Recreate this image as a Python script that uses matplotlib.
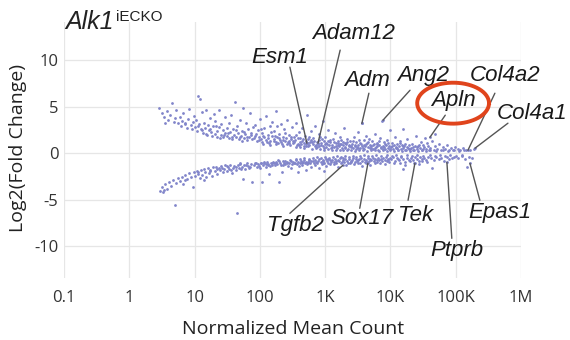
import numpy as np
import matplotlib
matplotlib.use("Agg")
import matplotlib.pyplot as plt

# ---------------- data ----------------
# upper band: (log10 normalized mean count, log2 fold change)
up_pts = [
(0.46,4.9),(0.50,4.3),(0.53,3.9),(0.58,4.5),(0.60,3.6),(0.63,4.1),(0.66,5.4),(0.68,3.4),(0.70,3.8),(0.55,3.3),
(0.72,4.6),(0.74,3.2),(0.77,3.9),(0.79,2.9),(0.81,3.5),(0.83,4.3),(0.86,3.1),(0.88,2.7),(0.90,3.7),(0.92,4.8),(0.94,3.0),(0.96,2.6),(0.98,3.4),(0.99,4.0),(0.85,3.3),
(1.01,2.8),(1.02,3.6),(1.04,2.4),(1.05,6.2),(1.07,3.1),(1.08,5.8),(1.10,2.6),(1.11,4.4),(1.13,2.2),(1.14,3.3),(1.16,2.7),(1.17,4.7),(1.19,2.0),(1.20,3.0),(1.22,2.5),(1.23,3.8),(1.25,2.3),(1.26,1.9),(1.28,2.9),(1.29,4.2),(1.12,2.5),(1.18,2.1),(1.24,2.6),(1.06,2.9),
(1.31,2.1),(1.32,3.5),(1.34,2.4),(1.35,1.8),(1.37,2.8),(1.38,4.6),(1.40,2.0),(1.41,3.1),(1.43,1.7),(1.44,2.5),(1.46,3.9),(1.47,2.2),(1.49,1.9),(1.50,2.7),(1.52,1.6),(1.53,3.3),(1.55,2.3),(1.56,4.1),(1.58,1.8),(1.59,2.6),(1.33,2.9),(1.39,1.6),(1.45,2.0),(1.51,2.2),(1.57,1.5),
(1.61,2.0),(1.62,5.5),(1.64,1.7),(1.65,2.9),(1.67,2.2),(1.68,1.5),(1.70,3.6),(1.71,1.9),(1.73,2.4),(1.74,4.9),(1.76,1.6),(1.77,2.1),(1.79,3.2),(1.80,1.4),(1.82,2.6),(1.83,1.8),(1.85,4.3),(1.86,2.0),(1.88,1.5),(1.89,2.8),(1.63,2.5),(1.69,1.8),(1.75,2.3),(1.81,1.7),(1.87,2.2),(1.72,1.3),
(1.91,1.6),(1.92,3.0),(1.94,2.1),(1.95,1.3),(1.97,2.5),(1.98,1.8),(2.00,3.7),(2.01,1.5),(2.03,2.2),(2.04,1.2),(2.06,2.7),(2.07,1.7),(2.09,4.0),(2.10,1.4),(2.12,2.0),(2.13,1.6),(2.15,2.9),(2.16,1.3),(2.18,1.9),(2.19,3.4),(1.93,1.9),(1.99,1.4),(2.05,1.9),(2.11,1.2),(2.17,2.3),(2.02,2.6),(2.14,1.1),
(2.21,1.5),(2.22,2.4),(2.24,1.2),(2.25,4.5),(2.27,1.7),(2.28,1.1),(2.30,2.1),(2.31,1.4),(2.33,3.1),(2.34,1.0),(2.36,1.8),(2.37,2.6),(2.39,1.3),(2.40,1.6),(2.42,3.6),(2.43,1.2),(2.45,2.0),(2.46,0.9),(2.48,1.5),(2.49,2.8),(2.23,1.9),(2.29,1.6),(2.35,1.4),(2.41,1.0),(2.47,1.7),(2.26,2.9),(2.38,2.2),(2.44,1.3),
(2.51,1.1),(2.52,1.8),(2.54,1.4),(2.55,3.3),(2.57,0.9),(2.58,1.6),(2.60,2.3),(2.61,1.2),(2.63,1.0),(2.64,2.7),(2.66,1.5),(2.67,0.8),(2.69,1.9),(2.70,1.3),(2.72,4.1),(2.73,1.1),(2.75,1.7),(2.76,0.9),(2.78,2.4),(2.79,1.4),(2.53,1.2),(2.59,1.0),(2.65,1.3),(2.71,0.8),(2.77,1.2),(2.56,2.0),(2.62,1.6),(2.68,1.1),(2.74,1.5),
(2.81,1.0),(2.82,1.6),(2.84,0.8),(2.85,2.9),(2.87,1.2),(2.88,0.7),(2.90,1.4),(2.91,2.1),(2.93,0.9),(2.94,1.1),(2.96,3.5),(2.97,0.8),(2.99,1.3),(3.00,1.7),(3.02,0.7),(3.03,1.0),(3.05,2.5),(3.06,0.9),(3.08,1.2),(3.09,0.6),(2.83,1.3),(2.89,1.0),(2.95,1.5),(3.01,1.1),(3.07,1.4),(2.86,0.9),(2.92,1.8),(2.98,0.6),(3.04,1.3),
(3.11,0.9),(3.12,1.5),(3.14,0.7),(3.15,2.2),(3.17,1.1),(3.18,0.6),(3.20,1.3),(3.21,0.8),(3.23,1.8),(3.24,1.0),(3.26,0.6),(3.27,1.2),(3.29,2.7),(3.30,0.7),(3.32,1.0),(3.33,1.5),(3.35,0.5),(3.36,0.9),(3.38,1.3),(3.39,0.7),(3.13,1.2),(3.19,0.9),(3.25,1.4),(3.31,1.1),(3.37,0.8),(3.16,0.8),(3.22,1.0),(3.28,0.9),(3.34,1.2),
(3.41,1.0),(3.42,0.6),(3.44,1.7),(3.45,0.8),(3.47,1.2),(3.48,0.5),(3.50,2.3),(3.51,0.9),(3.53,1.1),(3.54,0.6),(3.56,3.2),(3.57,0.8),(3.59,1.4),(3.60,0.5),(3.62,1.0),(3.63,1.9),(3.65,0.7),(3.66,1.2),(3.68,0.6),(3.69,0.9),(3.43,1.3),(3.49,0.7),(3.55,1.0),(3.61,0.8),(3.67,1.5),(3.46,0.9),(3.52,1.4),(3.58,0.6),(3.64,1.1),
(3.71,0.8),(3.72,1.3),(3.74,0.5),(3.75,1.0),(3.77,2.1),(3.78,0.7),(3.80,1.1),(3.81,0.4),(3.83,0.9),(3.84,1.6),(3.86,0.6),(3.87,3.5),(3.89,0.8),(3.90,1.2),(3.92,0.5),(3.93,0.9),(3.95,1.4),(3.96,0.6),(3.98,0.8),(3.99,2.5),(3.73,0.9),(3.79,1.0),(3.85,0.7),(3.91,1.0),(3.97,1.1),(3.76,0.6),(3.82,1.3),(3.88,0.5),
(4.01,0.7),(4.02,1.1),(4.04,0.5),(4.05,0.9),(4.07,1.8),(4.08,0.6),(4.10,1.0),(4.11,0.4),(4.13,0.8),(4.14,1.3),(4.16,0.5),(4.17,0.9),(4.19,2.6),(4.20,0.6),(4.22,1.0),(4.23,0.4),(4.25,0.7),(4.26,1.5),(4.28,0.5),(4.29,0.9),(4.03,0.8),(4.09,0.7),(4.15,1.1),(4.21,0.8),(4.27,0.6),
(4.31,0.6),(4.33,1.0),(4.35,0.4),(4.37,0.8),(4.39,1.9),(4.41,0.5),(4.43,0.9),(4.45,0.6),(4.47,1.2),(4.49,0.4),(4.51,0.7),(4.53,1.6),(4.55,0.5),(4.57,0.8),(4.59,0.3),(4.34,0.7),(4.42,0.8),(4.50,0.9),(4.56,1.1),
(4.61,0.6),(4.63,1.3),(4.66,0.4),(4.69,0.8),(4.72,0.5),(4.75,1.0),(4.78,0.4),(4.81,0.7),(4.84,0.5),(4.87,0.9),(4.90,0.4),(4.93,0.6),(4.96,0.3),(4.99,0.7),(4.68,2.1),
(5.03,0.5),(5.07,0.3),(5.11,0.6),(5.16,0.4),(5.22,0.3),(5.28,0.5),
(2.62,0.7),(2.68,0.6),(2.74,0.8),(2.80,0.5),(2.86,0.6),(2.92,0.5),(2.98,0.4),(3.04,0.5),(3.10,0.4),(3.16,0.3),(3.22,0.4),(3.28,0.3),(3.34,0.4),(3.40,0.3),(3.46,0.2),(3.52,0.4),(3.58,0.3),(3.64,0.2),(3.70,0.4),(3.76,0.3),
(3.82,0.2),(3.88,0.3),(3.94,0.2),(4.00,0.3),(4.06,0.2),(4.12,0.3),(4.18,0.2),(4.24,0.3),(4.30,0.2),(4.36,0.3),(4.42,0.2),(4.48,0.3),(4.54,0.2),(4.60,0.4),(4.70,0.2),(4.80,0.3),(4.88,0.2),(4.97,0.4),(5.05,0.2),(5.13,0.3),
(2.05,1.0),(2.15,0.9),(2.25,1.0),(2.35,0.8),(2.45,1.1),(2.55,0.7),(2.22,1.3),(2.32,1.2),(2.50,1.3),(2.60,0.9),(2.70,1.0),(2.80,1.2),(2.90,0.8),(3.00,1.0),(3.10,0.7),
(3.20,1.1),(3.30,0.6),(3.40,0.8),(3.50,0.6),(3.60,0.9),(3.70,0.6),(3.80,0.8),(3.90,0.7),(4.00,0.5),(4.10,0.6),(4.20,0.8),(4.30,0.5),(4.40,0.7),(4.50,0.5),
]

# lower band
down_pts = [
(0.47,-4.1),(0.50,-3.6),(0.52,-4.2),(0.55,-3.3),(0.58,-3.8),(0.61,-3.1),(0.64,-3.5),(0.67,-2.9),(0.70,-5.6),(0.53,-4.0),
(0.72,-3.2),(0.74,-2.7),(0.77,-3.0),(0.80,-2.5),(0.83,-3.3),(0.86,-2.3),(0.88,-2.8),(0.91,-2.1),(0.94,-2.6),(0.97,-3.6),(0.99,-2.0),(0.85,-2.9),
(1.01,-2.4),(1.03,-1.9),(1.06,-2.2),(1.08,-2.7),(1.10,-1.8),(1.12,-2.3),(1.14,-1.7),(1.16,-2.0),(1.18,-2.5),(1.20,-1.6),(1.22,-2.1),(1.24,-1.8),(1.26,-2.4),(1.28,-1.5),(1.05,-2.0),(1.15,-2.9),(1.23,-1.9),
(1.31,-1.9),(1.33,-1.5),(1.35,-2.2),(1.37,-1.6),(1.39,-1.8),(1.41,-1.4),(1.43,-2.0),(1.45,-1.7),(1.47,-1.3),(1.49,-1.9),(1.51,-1.5),(1.53,-1.7),(1.55,-1.3),(1.57,-2.1),(1.59,-1.6),(1.34,-1.7),(1.42,-1.6),(1.50,-1.4),(1.56,-1.8),
(1.61,-1.4),(1.63,-1.8),(1.65,-6.4),(1.66,-1.3),(1.68,-1.6),(1.70,-1.2),(1.72,-1.5),(1.74,-2.8),(1.76,-1.3),(1.78,-1.7),(1.80,-1.1),(1.82,-1.4),(1.84,-1.6),(1.86,-1.2),(1.88,-3.1),(1.64,-1.5),(1.71,-1.7),(1.79,-1.3),(1.85,-1.5),(1.69,-1.1),
(1.91,-1.3),(1.93,-1.0),(1.95,-1.5),(1.97,-1.2),(1.99,-1.4),(2.01,-1.0),(2.03,-3.1),(2.05,-1.3),(2.07,-1.1),(2.09,-1.5),(2.11,-0.9),(2.13,-1.2),(2.15,-1.4),(2.17,-1.0),(2.19,-1.3),(1.94,-1.1),(2.00,-1.6),(2.06,-0.9),(2.12,-1.3),(2.18,-1.1),(2.14,-2.2),
(2.21,-1.0),(2.23,-1.3),(2.25,-0.9),(2.27,-1.2),(2.29,-3.1),(2.31,-1.0),(2.33,-1.3),(2.35,-0.8),(2.37,-1.1),(2.39,-1.2),(2.41,-0.9),(2.43,-1.4),(2.45,-1.0),(2.47,-0.8),(2.49,-1.2),(2.24,-1.1),(2.30,-0.8),(2.36,-1.3),(2.42,-1.0),(2.48,-1.6),(2.34,-2.0),
(2.51,-0.9),(2.53,-1.1),(2.55,-0.7),(2.57,-1.2),(2.59,-0.9),(2.61,-1.0),(2.63,-0.8),(2.65,-1.3),(2.67,-0.7),(2.69,-1.0),(2.71,-0.9),(2.73,-1.1),(2.75,-0.7),(2.77,-1.0),(2.79,-0.8),(2.54,-1.0),(2.60,-1.4),(2.66,-0.9),(2.72,-1.2),(2.78,-1.5),(2.58,-2.0),(2.70,-1.8),
(2.81,-0.8),(2.83,-1.0),(2.85,-0.7),(2.87,-1.1),(2.89,-0.8),(2.91,-0.6),(2.93,-0.9),(2.95,-1.2),(2.97,-0.7),(2.99,-1.0),(3.01,-0.6),(3.03,-0.8),(3.05,-1.1),(3.07,-0.7),(3.09,-0.9),(2.84,-1.3),(2.90,-1.6),(2.96,-0.8),(3.02,-1.4),(3.08,-1.2),(2.98,-1.9),
(3.11,-0.7),(3.13,-0.9),(3.15,-0.6),(3.17,-1.0),(3.19,-0.7),(3.21,-0.8),(3.23,-0.5),(3.25,-1.1),(3.27,-0.7),(3.29,-0.9),(3.31,-0.6),(3.33,-0.8),(3.35,-1.0),(3.37,-0.6),(3.39,-0.8),(3.14,-1.2),(3.20,-1.5),(3.26,-0.9),(3.32,-1.3),(3.38,-1.1),
(3.41,-0.7),(3.43,-0.5),(3.45,-0.9),(3.47,-0.6),(3.49,-0.8),(3.51,-0.7),(3.53,-1.0),(3.55,-0.5),(3.57,-0.8),(3.59,-0.6),(3.61,-0.9),(3.63,-0.7),(3.65,-0.5),(3.67,-0.8),(3.69,-0.6),(3.44,-1.2),(3.50,-1.1),(3.56,-1.4),(3.62,-1.0),(3.68,-1.3),
(3.71,-0.7),(3.73,-0.5),(3.75,-0.8),(3.77,-0.6),(3.79,-0.9),(3.81,-0.5),(3.83,-0.7),(3.85,-0.6),(3.87,-0.8),(3.89,-0.5),(3.91,-0.7),(3.93,-0.4),(3.95,-0.8),(3.97,-0.6),(3.99,-0.5),(3.76,-1.1),(3.84,-1.0),(3.92,-1.2),(3.98,-0.9),
(4.01,-0.6),(4.04,-0.4),(4.07,-0.8),(4.10,-0.5),(4.13,-0.7),(4.16,-0.4),(4.19,-0.6),(4.22,-0.9),(4.25,-0.5),(4.28,-0.7),(4.05,-1.0),(4.14,-1.1),(4.23,-1.3),(4.20,-1.7),
(4.31,-0.5),(4.34,-0.7),(4.37,-0.4),(4.40,-0.6),(4.43,-0.8),(4.46,-0.4),(4.49,-0.6),(4.52,-0.5),(4.55,-0.7),(4.58,-0.4),(4.36,-1.0),(4.44,-1.2),(4.56,-0.9),(4.64,-1.6),
(4.62,-0.5),(4.66,-0.7),(4.70,-0.4),(4.74,-0.6),(4.78,-0.5),(4.82,-0.8),(4.86,-0.4),(4.90,-0.6),(4.94,-0.5),(4.98,-0.4),
(5.04,-0.5),(5.09,-0.3),(5.14,-0.6),(5.20,-0.4),(5.25,-0.5),(5.17,-1.5),
(2.62,-0.6),(2.68,-0.5),(2.76,-0.6),(2.82,-0.5),(2.88,-0.4),(2.94,-0.5),(3.00,-0.4),(3.06,-0.5),(3.12,-0.4),(3.18,-0.3),(3.24,-0.4),(3.30,-0.3),(3.36,-0.4),(3.42,-0.3),(3.48,-0.4),(3.54,-0.3),(3.60,-0.2),(3.66,-0.3),
(3.72,-0.3),(3.78,-0.2),(3.86,-0.3),(3.94,-0.2),(4.02,-0.3),(4.08,-0.2),(4.16,-0.3),(4.26,-0.2),(4.33,-0.3),(4.41,-0.2),(4.50,-0.3),(4.60,-0.2),(4.68,-0.3),(4.76,-0.2),(4.84,-0.3),(4.92,-0.2),(5.00,-0.3),(5.10,-0.2),
(2.02,-1.1),(2.10,-1.2),(2.20,-0.9),(2.28,-0.7),(2.38,-0.8),(2.46,-0.7),(2.56,-0.6),(2.64,-1.1),(2.74,-0.9),(2.86,-0.9),(2.96,-1.1),
(3.04,-0.6),(3.16,-0.8),(3.28,-0.5),(3.40,-0.9),(3.52,-0.6),(3.64,-0.9),(3.80,-0.7),(3.96,-0.7),(4.12,-0.6),(4.30,-0.8),(4.48,-0.8),
]

# labelled genes
genes     = ['Esm1', 'Adam12', 'Adm', 'Ang2', 'Apln', 'Col4a2', 'Col4a1',
             'Tgfb2', 'Sox17', 'Tek', 'Ptprb', 'Epas1']
gene_mean = [525, 776, 3650, 7680, 40300, 153800, 197000,
             1870, 4520, 23700, 73300, 165000]
gene_lfc  = [1.08, 1.08, 3.2, 3.55, 1.72, 0.32, 0.54,
             -1.29, -1.08, -1.08, -0.97, -1.08]

x_ticks = [0.1, 1, 10, 100, 1e3, 1e4, 1e5, 1e6]
x_tick_labels = ['0.1', '1', '10', '100', '1K', '10K', '100K', '1M']
y_ticks = [10, 5, 0, -5, -10]

# ---------------- layout / style ----------------
# label text centre and leader start, given as (log10 x, y)
label_text = [(2.31, 10.3), (3.43, 12.9), (3.64, 7.85), (4.50, 8.39), (4.96, 5.70),
              (5.75, 8.39), (6.17, 4.30), (2.54, -7.74), (3.56, -6.99), (4.38, -6.67),
              (5.02, -10.43), (5.68, -6.34)]
leader_start = [(2.46, 9.25), (3.23, 11.08), (3.67, 6.45), (4.30, 6.77), (4.84, 4.09),
                (5.60, 6.45), (5.80, 3.23), (2.46, -6.45), (3.53, -5.91), (4.27, -5.05),
                (4.94, -9.14), (5.37, -5.05)]

W, H = 570, 340
fig = plt.figure(figsize=(W / 100, H / 100), dpi=100)
ax = fig.add_axes([64 / W, 1 - 278 / H, (521 - 64) / W, (278 - 22) / H])

dot_color = '#8185ca'
ux = [10 ** p[0] for p in up_pts]
uy = [p[1] for p in up_pts]
dx = [10 ** p[0] for p in down_pts]
dy = [p[1] for p in down_pts]
ax.scatter(ux, uy, s=4, color=dot_color, linewidths=0, zorder=3)
ax.scatter(dx, dy, s=4, color=dot_color, linewidths=0, zorder=3)
ax.scatter(gene_mean, gene_lfc, s=4, color=dot_color, linewidths=0, zorder=3)

ax.set_xscale('log')
ax.set_xlim(0.1, 1e6)
ax.set_ylim(-13.4, 14.1)
ax.set_xticks(x_ticks)
ax.set_xticklabels(x_tick_labels)
ax.minorticks_off()
ax.set_yticks(y_ticks)
ax.set_yticklabels([str(v) for v in y_ticks])
ax.grid(True, color='#e6e6e6', lw=0.9, zorder=0)
for s in ax.spines.values():
    s.set_visible(False)
ax.tick_params(length=0, labelsize=12, colors='#333333')
ax.tick_params(axis='x', pad=9)
ax.tick_params(axis='y', pad=4)
for lab in ax.get_xticklabels() + ax.get_yticklabels():
    lab.set_fontfamily('Open Sans')

for g, gx, gy, (tx, ty), (sx, sy) in zip(genes, gene_mean, gene_lfc, label_text, leader_start):
    ax.annotate('', xy=(gx, gy), xytext=(10 ** sx, sy),
                arrowprops=dict(arrowstyle='-', color='#555555', lw=1.0,
                                shrinkA=0, shrinkB=0), zorder=4)
    ax.text(10 ** tx, ty, g, ha='center', va='center', fontsize=16,
            fontstyle='italic', family='Liberation Sans', color='#1a1a1a', zorder=5)

# red ellipse around Apln
t = np.linspace(0, 2 * np.pi, 200)
ax.plot(10 ** (4.96 + 0.55 * np.cos(t)), 5.38 + 2.2 * np.sin(t),
        color='#e0441c', lw=2.8, zorder=5, clip_on=False)

fig.text(65 / W, 1 - 22 / H, 'Alk1', fontsize=18, fontstyle='italic',
         family='Liberation Sans', va='center', ha='left', color='#222222')
fig.text(116 / W, 1 - 17 / H, 'iECKO', fontsize=11,
         family='Liberation Sans', va='center', ha='left', color='#222222')

fig.text(18 / W, 1 - 148 / H, 'Log2(Fold Change)', rotation=90, fontsize=14,
         family='Open Sans', va='center', ha='center', color='#222222')
fig.text(293 / W, 1 - 329 / H, 'Normalized Mean Count', fontsize=14,
         family='Open Sans', va='center', ha='center', color='#222222')

fig.savefig('out.png', dpi=100, facecolor='white')
